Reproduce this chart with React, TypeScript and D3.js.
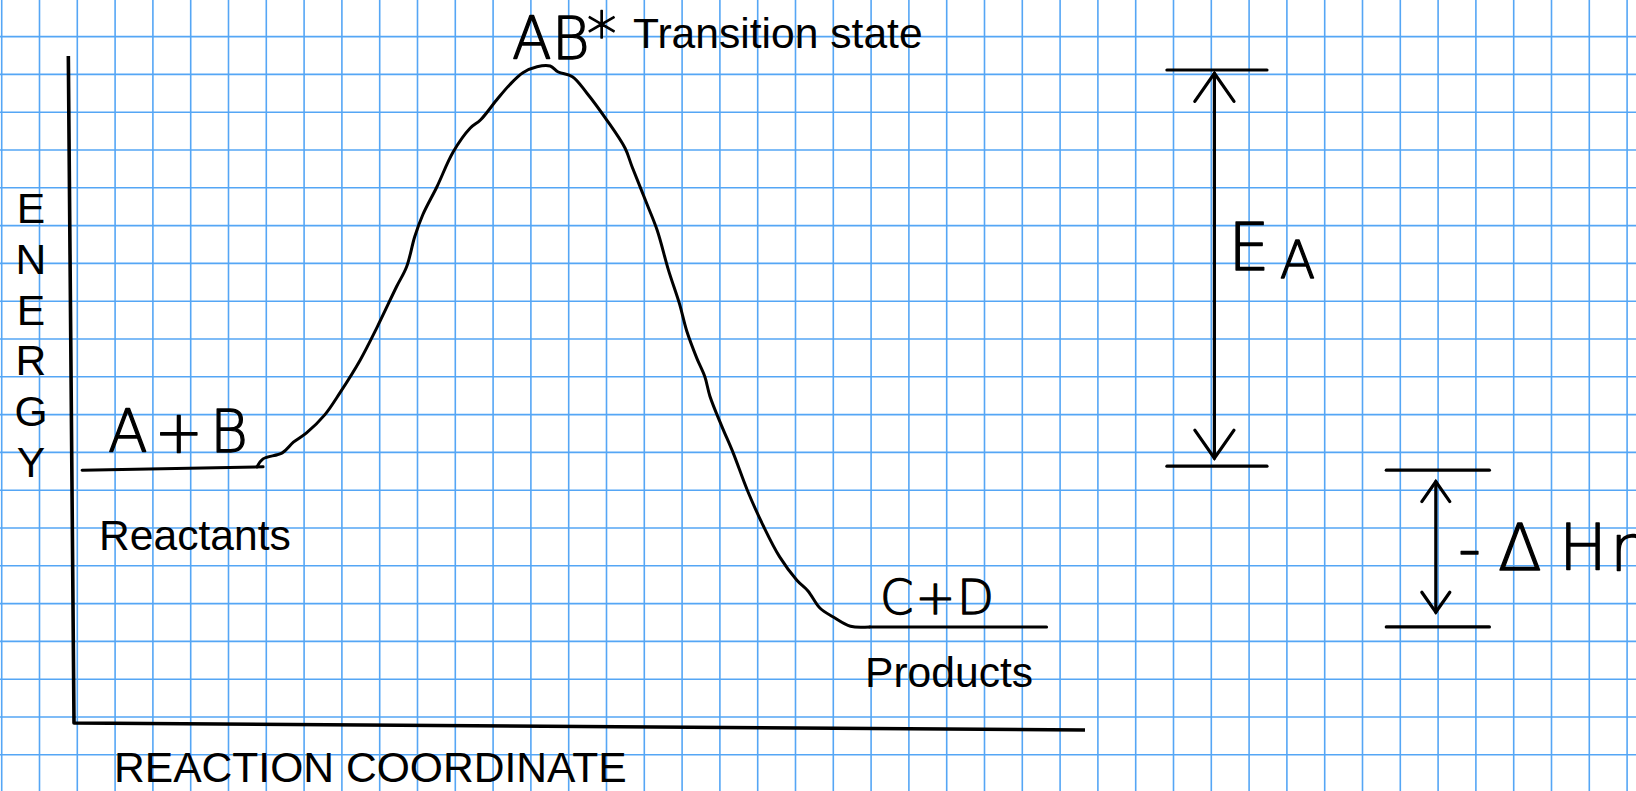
import React from "react";
import * as d3 from "d3";

// reaction coordinate (x) and energy (y), both in arbitrary units 0..10
const curveCoord = [
  1.81, 1.87, 2.06, 2.17, 2.3, 2.48, 2.63, 2.83, 3.0, 3.19, 3.29, 3.37, 3.45, 3.59, 3.75, 3.92,
  4.02, 4.18, 4.31, 4.44, 4.58, 4.71, 4.79, 4.93, 5.07, 5.27, 5.45, 5.52, 5.67, 5.77, 5.88, 5.99,
  6.06, 6.16, 6.24, 6.29, 6.41, 6.52, 6.66, 6.82, 6.98, 7.15, 7.26, 7.38, 7.51, 7.68, 7.87,
];
const curveEnergy = [
  3.84, 3.96, 4.05, 4.21, 4.35, 4.62, 4.95, 5.44, 5.94, 6.54, 6.84, 7.29, 7.62, 8.04, 8.56, 8.92,
  9.04, 9.34, 9.57, 9.75, 9.84, 9.85, 9.76, 9.69, 9.45, 9.04, 8.62, 8.34, 7.77, 7.38, 6.79, 6.28,
  5.88, 5.47, 5.19, 4.9, 4.44, 4.05, 3.49, 2.95, 2.49, 2.14, 1.98, 1.72, 1.59, 1.45, 1.44,
];

const reactantCoord = [0.08, 1.87];
const reactantEnergy = [3.79, 3.84];
const productCoord = [7.87, 9.62];
const productEnergy = [1.44, 1.44];

// E_A bracket: [top, bottom] levels and extents
const eaLevels = [9.79, 3.85];
const eaSpan = [10.81, 11.8];
const eaShaft = 11.28;
// -ΔH bracket
const dhLevels = [3.79, 1.44];
const dhSpan = [12.98, 14.0];
const dhShaft = 13.47;

const energyLetters = ["E", "N", "E", "R", "G", "Y"];

const W = 1636;
const H = 791;
const GRID = 37.8;
const gridColor = "#55a6f5";
const ink = "#000";
const font = "'Liberation Sans', Arial, sans-serif";
const hand = "'DejaVu Sans', sans-serif";

const x = d3.scaleLinear().domain([0, 10]).range([74, 1085]);
const y = d3.scaleLinear().domain([0, 10]).range([723, 56]);

const line = d3
  .line<[number, number]>()
  .x((d) => x(d[0]))
  .y((d) => y(d[1]))
  .curve(d3.curveCatmullRom.alpha(0.5));

const straight = d3
  .line<[number, number]>()
  .x((d) => x(d[0]))
  .y((d) => y(d[1]));

const zip = (a: number[], b: number[]) => a.map((v, i) => [v, b[i]] as [number, number]);

function Arrow({ cx, top, bottom, head }: { cx: number; top: number; bottom: number; head: number }) {
  const px = x(cx);
  const t = y(top);
  const b = y(bottom);
  const hw = head * 0.7;
  return (
    <g stroke={ink} strokeWidth={3.2} strokeLinecap="round" fill="none">
      <line x1={px} y1={t} x2={px} y2={b} />
      <path d={`M${px - hw},${t + head} L${px},${t} L${px + hw},${t + head}`} />
      <path d={`M${px - hw},${b - head} L${px},${b} L${px + hw},${b - head}`} />
    </g>
  );
}

export default function App() {
  const vLines = d3.range(0, 44).map((k) => 1.7 + k * GRID);
  const hLines = d3.range(1, 22).map((k) => -1.2 + k * GRID);

  return (
    <div style={{ position: "absolute", left: 0, top: 0 }}>
      <svg width={W} height={H} style={{ display: "block", background: "#fff" }}>
        {/* graph paper */}
        <g stroke={gridColor} strokeWidth={1.6}>
          {vLines.map((v, i) => (
            <line key={"v" + i} x1={v} y1={0} x2={v} y2={H} />
          ))}
          {hLines.map((v, i) => (
            <line key={"h" + i} x1={0} y1={v} x2={W} y2={v} />
          ))}
        </g>

        {/* axes (hand drawn, slightly tilted) */}
        <path
          d={straight([
            [-0.056, 10],
            [0, 0],
            [10, -0.105],
          ])!}
          stroke={ink}
          strokeWidth={3.6}
          fill="none"
          strokeLinejoin="round"
        />

        {/* energy profile */}
        <g stroke={ink} strokeWidth={3} fill="none" strokeLinecap="round" strokeLinejoin="round">
          <path d={straight(zip(reactantCoord, reactantEnergy))!} />
          <path d={line(zip(curveCoord, curveEnergy))!} />
          <path d={straight(zip(productCoord, productEnergy))!} />
        </g>

        {/* E_A and -ΔH brackets */}
        <g stroke={ink} strokeWidth={3.2} strokeLinecap="round">
          {eaLevels.map((lv, i) => (
            <line key={i} x1={x(eaSpan[0])} x2={x(eaSpan[1])} y1={y(lv)} y2={y(lv)} />
          ))}
          {dhLevels.map((lv, i) => (
            <line key={"d" + i} x1={x(dhSpan[0])} x2={x(dhSpan[1])} y1={y(lv)} y2={y(lv)} />
          ))}
        </g>
        <Arrow cx={eaShaft} top={eaLevels[0] - 0.05} bottom={eaLevels[1] + 0.12} head={28} />
        <Arrow cx={dhShaft} top={dhLevels[0] - 0.17} bottom={dhLevels[1] + 0.22} head={20} />

        {/* typed labels */}
        <g fontFamily={font} fontSize={42.6} fill={ink}>
          <text x={633} y={48}>Transition state</text>
          <text x={99} y={550}>Reactants</text>
          <text x={865} y={687}>Products</text>
          <text x={114} y={782}>REACTION COORDINATE</text>
          {energyLetters.map((c, i) => (
            <text key={i} x={31} y={223 + i * 50.8} textAnchor="middle">
              {c}
            </text>
          ))}
        </g>

        {/* handwritten labels */}
        <g
          fontFamily={hand}
          fontWeight={200}
          fill={ink}
          stroke={ink}
          strokeWidth={1.3}
          strokeLinejoin="round"
        >
          <text x={108} y={452} fontSize={58} textLength={140} lengthAdjust="spacing">
            A + B
          </text>
          <text x={512} y={59} fontSize={58}>
            AB<tspan fontSize={60} dx={-3} dy={-4}>*</tspan>
          </text>
          <text x={880} y={614} fontSize={48} textLength={114} lengthAdjust="spacing">
            C + D
          </text>
          <text x={1228} y={270} fontSize={66}>
            E
            <tspan fontSize={52} dy={8} dx={10}>
              A
            </tspan>
          </text>
          <text x={1458} y={570} fontSize={64}>
            -<tspan dx={17}>Δ</tspan>
            <tspan dx={17}>H</tspan>
            <tspan dx={3}>r</tspan>
          </text>
        </g>
      </svg>
    </div>
  );
}
